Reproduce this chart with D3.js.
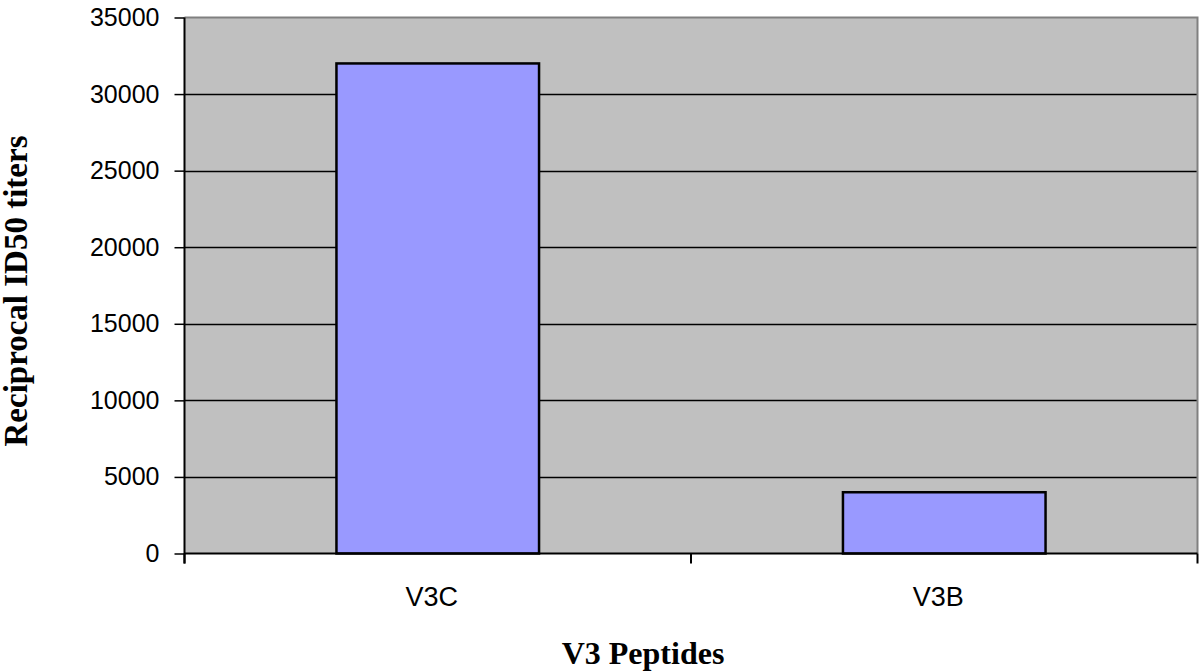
<!DOCTYPE html>
<html>
<head>
<meta charset="utf-8">
<title>V3 Peptides</title>
<script src="https://d3js.org/d3.v7.min.js"></script>
<style>
  body { margin: 0; background: #fff; }
</style>
</head>
<body>
<svg id="chart"></svg>
<script>
// data
const categories = ["V3C", "V3B"];
const titers = [32000, 4000];
const yTicks = [0, 5000, 10000, 15000, 20000, 25000, 30000, 35000];

const width = 1200, height = 672;
const plotLeft = 184.5, plotRight = 1197.5, plotTop = 17.5, plotBottom = 553.5;

const svg = d3.select("#chart").attr("width", width).attr("height", height);

const x = d3.scaleBand().domain(categories).range([plotLeft, plotRight])
    .paddingInner(0.6).paddingOuter(0.3);
const xEdge = d3.scaleBand().domain(categories).range([plotLeft, plotRight]);
const y = d3.scaleLinear().domain([0, 35000]).range([plotBottom, plotTop]);

// plot background
svg.append("rect")
    .attr("x", plotLeft).attr("y", plotTop)
    .attr("width", plotRight - plotLeft).attr("height", plotBottom - plotTop)
    .attr("fill", "#c0c0c0");

// grid lines
svg.append("g").selectAll("line")
    .data(yTicks.filter(d => d > 0 && d < 35000))
    .join("line")
    .attr("x1", plotLeft).attr("x2", plotRight)
    .attr("y1", d => Math.round(y(d)) + 0.5).attr("y2", d => Math.round(y(d)) + 0.5)
    .attr("stroke", "#000").attr("stroke-width", 1.5);

// top and right border
svg.append("path")
    .attr("d", `M${plotLeft},${plotTop}H${plotRight}V${plotBottom}`)
    .attr("fill", "none").attr("stroke", "#808080").attr("stroke-width", 2);

// bars
svg.append("g").selectAll("rect")
    .data(titers)
    .join("rect")
    .attr("x", (d, i) => x(categories[i]))
    .attr("width", x.bandwidth())
    .attr("y", d => y(d))
    .attr("height", d => y(0) - y(d))
    .attr("fill", "#9999ff")
    .attr("stroke", "#000").attr("stroke-width", 2.5);

// y axis
const yAxis = svg.append("g")
    .attr("transform", `translate(${plotLeft},0)`)
    .call(d3.axisLeft(y).tickValues(yTicks).tickSize(10).tickPadding(15).tickFormat(d3.format("d")));
yAxis.select(".domain").attr("d", `M0,${plotTop}V${plotBottom + 10}`).attr("stroke-width", 2);
yAxis.selectAll(".tick line").attr("stroke-width", 1.5);
yAxis.selectAll("text")
    .attr("font-family", "Liberation Sans, Arial, sans-serif")
    .attr("font-size", 25).attr("fill", "#000");

// x axis
const xAxis = svg.append("g")
    .attr("transform", `translate(0,${plotBottom})`);
xAxis.append("line")
    .attr("x1", plotLeft).attr("x2", plotRight)
    .attr("stroke", "#000").attr("stroke-width", 2);
xAxis.selectAll(".edge")
    .data(categories.map(c => xEdge(c)).concat([plotRight]))
    .join("line")
    .attr("class", "edge")
    .attr("x1", d => d).attr("x2", d => d)
    .attr("y1", 0).attr("y2", 10)
    .attr("stroke", "#000").attr("stroke-width", 2);
xAxis.selectAll("text")
    .data(categories)
    .join("text")
    .attr("x", d => x(d) + x.bandwidth() / 2 - 6)
    .attr("y", 52)
    .attr("text-anchor", "middle")
    .attr("font-family", "Liberation Sans, Arial, sans-serif")
    .attr("font-size", 27)
    .text(d => d);

// axis titles
svg.append("text")
    .attr("x", 643).attr("y", 664)
    .attr("text-anchor", "middle")
    .attr("font-family", "Liberation Serif, Times New Roman, serif")
    .attr("font-weight", "bold").attr("font-size", 32)
    .text("V3 Peptides");

svg.append("text")
    .attr("transform", "translate(27,291) rotate(-90)")
    .attr("text-anchor", "middle")
    .attr("font-family", "Liberation Serif, Times New Roman, serif")
    .attr("font-weight", "bold").attr("font-size", 33)
    .text("Reciprocal ID50 titers");
</script>
</body>
</html>
